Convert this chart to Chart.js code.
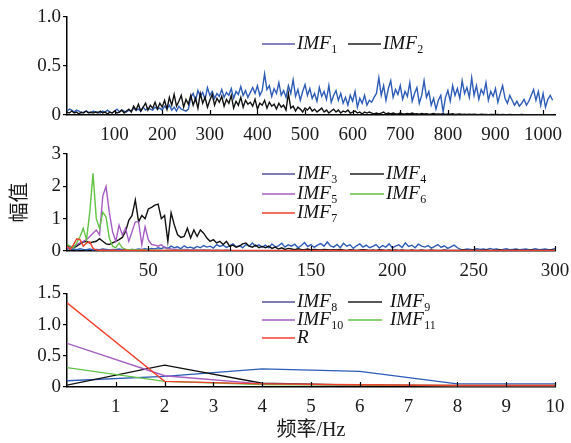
<!DOCTYPE html>
<html>
<head>
<meta charset="utf-8">
<script src="https://cdn.jsdelivr.net/npm/chart.js@4.4.0/dist/chart.umd.min.js"></script>
<style>
    html, body { margin: 0; padding: 0; background: #fff; }
    #wrap { position: relative; width: 571px; height: 443px; }
    canvas { position: absolute; left: 0; }
</style>
</head>
<body>
<div id="wrap">
    <canvas id="painel1" width="571" height="140" style="top:0"></canvas>
    <canvas id="painel2" width="571" height="140" style="top:140px"></canvas>
    <canvas id="painel3" width="571" height="163" style="top:280px"></canvas>
</div>
<script>
"use strict";

/********************************************************************
 * Data
 ********************************************************************/

// panel 1: 0..1020 Hz, one value every 5 Hz
const step1 = 5;
const labels1 = ["IMF1", "IMF2"];
const imf1 = [
    0.04,0.06,0.05,0.03,0.05,0.04,0.02,0.03,0.04,0.03,0.02,0.04,0.03,
    0.03,0.02,0.04,0.03,0.05,0.03,0.02,0.04,0.06,0.03,0.05,0.04,0.03,
    0.05,0.04,0.07,0.05,0.06,0.04,0.08,0.05,0.07,0.06,0.05,0.08,0.06,
    0.07,0.05,0.09,0.06,0.1,0.05,0.08,0.04,0.09,0.06,0.05,0.04,0.06,
    0.18,0.22,0.15,0.25,0.19,0.23,0.16,0.28,0.2,0.24,0.17,0.22,0.19,
    0.26,0.18,0.23,0.2,0.27,0.17,0.24,0.21,0.29,0.2,0.25,0.18,0.23,
    0.28,0.22,0.3,0.2,0.25,0.42,0.26,0.3,0.19,0.27,0.22,0.33,0.2,
    0.25,0.18,0.3,0.22,0.36,0.19,0.26,0.15,0.24,0.31,0.2,0.27,0.17,
    0.22,0.14,0.28,0.19,0.24,0.16,0.3,0.13,0.2,0.25,0.15,0.22,0.12,
    0.18,0.1,0.2,0.14,0.24,0.08,0.17,0.12,0.2,0.1,0.15,0.13,0.18,
    0.22,0.38,0.2,0.3,0.15,0.27,0.35,0.18,0.26,0.21,0.3,0.16,0.24,
    0.19,0.33,0.14,0.22,0.28,0.12,0.2,0.35,0.18,0.24,0.1,0.17,0.06,
    0.15,0.2,0.03,0.18,0.25,0.14,0.3,0.2,0.27,0.17,0.35,0.22,0.28,
    0.18,0.38,0.2,0.3,0.16,0.26,0.21,0.33,0.15,0.24,0.19,0.27,0.13,
    0.22,0.3,0.17,0.12,0.2,0.15,0.1,0.14,0.09,0.12,0.16,0.1,0.14,
    0.2,0.26,0.15,0.24,0.1,0.22,0.08,0.16,0.2,0.15
];
const imf2 = [
    0.03,0.02,0.04,0.02,0.03,0.01,0.03,0.02,0.04,0.02,0.03,0.02,0.03,
    0.02,0.04,0.02,0.03,0.01,0.03,0.02,0.04,0.02,0.03,0.05,0.02,0.04,
    0.06,0.03,0.09,0.05,0.11,0.04,0.08,0.12,0.05,0.1,0.07,0.13,0.06,
    0.12,0.08,0.15,0.06,0.18,0.1,0.21,0.09,0.14,0.2,0.08,0.16,0.11,
    0.2,0.1,0.17,0.07,0.22,0.12,0.18,0.08,0.15,0.21,0.1,0.17,0.13,
    0.19,0.09,0.16,0.12,0.2,0.07,0.14,0.1,0.18,0.08,0.15,0.11,0.13,
    0.09,0.16,0.06,0.12,0.1,0.15,0.07,0.13,0.09,0.11,0.06,0.12,0.08,
    0.1,0.05,0.22,0.07,0.09,0.04,0.08,0.06,0.03,0.07,0.05,0.08,0.04,
    0.06,0.03,0.05,0.07,0.03,0.05,0.02,0.04,0.06,0.03,0.05,0.02,0.04,
    0.03,0.05,0.02,0.03,0.04,0.02,0.03,0.01,0.03,0.02,0.03,0.02,0.01,
    0.02,0.01,0.02,0.03,0.01,0.02,0.01,0.02,0.01,0.01,0.02,0.01,0.01,
    0.015,0.01,0.02,0.01,0.012,0.008,0.015,0.01,0.012,0.008,0.01,0.015,0.008,
    0.01,0.008,0.012,0.006,0.01,0.008,0.012,0.006,0.008,0.01,0.006,0.008,0.006,
    0.008,0.005,0.007,0.006,0.004,0.007,0.005,0.006,0.004,0.005,0.006,0.004,0.005,
    0.004,0.005,0.003,0.004,0.005,0.003,0.004,0.003,0.004,0.005,0.003,0.004,0.003,
    0.004,0.003,0.004,0.003,0.003,0.004,0.003,0.003,0.004,0.003
];
const xTicks1 = [100, 200, 300, 400, 500, 600, 700, 800, 900, 1000];
const yTicks1 = [0, 0.5, 1.0];

// panel 2: 0..300 Hz, one value every 2 Hz
const step2 = 2;
const labels2 = ["IMF3", "IMF4", "IMF5", "IMF6", "IMF7"];
const imf3 = [
    0.08,0.05,0.06,0.04,0.07,0.05,0.04,0.06,0.03,0.05,0.04,0.06,0.05,0.03,0.05,0.04,0.06,0.04,0.05,0.03,0.05,
    0.04,0.06,0.05,0.07,0.05,0.08,0.06,0.1,0.07,0.12,0.08,0.15,0.1,0.13,0.07,0.16,0.1,0.12,0.08,0.14,
    0.1,0.17,0.12,0.15,0.09,0.2,0.14,0.18,0.11,0.16,0.22,0.13,0.17,0.1,0.2,0.15,0.25,0.14,0.19,0.12,
    0.18,0.1,0.22,0.13,0.16,0.24,0.12,0.19,0.15,0.21,0.1,0.17,0.26,0.14,0.2,0.11,0.18,0.23,0.15,0.28,
    0.16,0.12,0.2,0.1,0.24,0.15,0.19,0.08,0.16,0.22,0.12,0.18,0.1,0.14,0.2,0.09,0.17,0.12,0.22,0.1,
    0.15,0.19,0.11,0.25,0.14,0.18,0.1,0.21,0.15,0.12,0.17,0.09,0.14,0.2,0.11,0.16,0.08,0.13,0.18,0.1,
    0.05,0.04,0.06,0.05,0.04,0.07,0.05,0.06,0.04,0.08,0.05,0.06,0.04,0.05,0.07,0.04,0.05,0.06,0.04,0.05,
    0.06,0.04,0.05,0.07,0.04,0.05,0.06,0.04,0.05,0.07
];
const imf4 = [
    0.18,0.12,0.1,0.15,0.22,0.28,0.3,0.25,0.28,0.3,0.38,0.3,0.22,0.2,0.25,0.3,0.35,0.42,0.6,0.95,1.1,
    1.58,0.9,1.1,1.0,1.3,1.35,1.42,1.45,1.0,1.1,0.3,1.18,0.8,0.5,0.42,0.45,0.7,0.4,0.65,0.45,
    0.65,0.55,0.4,0.3,0.35,0.25,0.3,0.2,0.3,0.15,0.18,0.12,0.15,0.22,0.25,0.15,0.12,0.18,0.1,0.14,
    0.1,0.15,0.08,0.12,0.06,0.1,0.05,0.08,0.06,0.04,0.07,0.05,0.04,0.06,0.03,0.05,0.04,0.03,0.05,0.04,
    0.03,0.04,0.03,0.05,0.03,0.02,0.04,0.03,0.02,0.03,0.04,0.03,0.02,0.03,0.02,0.04,0.03,0.02,0.03,0.02,
    0.03,0.02,0.03,0.02,0.02,0.03,0.02,0.02,0.03,0.02,0.02,0.03,0.02,0.02,0.02,0.03,0.02,0.02,0.02,0.02,
    0.02,0.03,0.02,0.02,0.03,0.02,0.02,0.02,0.03,0.02,0.02,0.02,0.03,0.02,0.02,0.02,0.02,0.03,0.02,0.02,
    0.02,0.02,0.03,0.02,0.02,0.02,0.02,0.02,0.03,0.02
];
const imf5 = [
    0.1,0.12,0.15,0.2,0.25,0.3,0.35,0.45,0.55,0.65,
    0.5,1.7,2.0,1.2,0.6,0.3,0.8,0.5,0.7,0.3,
    0.6,0.9,0.9,0.2,0.75,0.35,0.2,0.18,0.15,0.2,
    0.1,0.08,0.06,0.05,0.05,0.04,0.05,0.04,0.03,0.04,
    0.03,0.03,0.04,0.03,0.03,0.02,0.03,0.02,0.02,0.03,0.02
];
const imf6 = [
    0.2,0.15,0.1,0.25,0.45,0.7,0.35,1.2,2.4,1.0,
    0.7,1.2,1.05,0.4,0.15,0.1,0.25,0.1,0.05,0.04,
    0.05,0.03,0.04,0.03,0.03,0.02,0.03,0.02,0.03,0.02,
    0.02,0.03,0.02,0.02,0.02,0.03,0.02,0.02,0.02,0.02,
    0.02,0.02,0.02,0.02,0.02,0.02,0.02,0.02,0.02,0.02,0.02
];
const imf7 = [
    0.15,0.05,0.2,0.38,0.35,0.15,0.25,0.28,0.08,0.03,
    0.02,0.03,0.02,0.02,0.03,0.02,0.02,0.02,0.03,0.02,0.02,0.02,0.02,0.03,0.02,0.02,0.02,0.02,0.02,0.02,0.02,
    0.02,0.02,0.015,0.02,0.02,0.015,0.02,0.02,0.02,0.015,0.02,0.02,0.015,0.02,0.02,0.02,0.015,0.02,0.02,0.015,
    0.02,0.015,0.02,0.02,0.015,0.02,0.02,0.015,0.02,0.02,0.015,0.02,0.015,0.02,0.02,0.015,0.02,0.02,0.015,0.02,
    0.015,0.02,0.015,0.015,0.02,0.015,0.015,0.02,0.015,0.015,0.02,0.015,0.015,0.015,0.02,0.015,0.015,0.02,0.015,0.015,
    0.015,0.015,0.02,0.015,0.015,0.015,0.015,0.02,0.015,0.015,0.015,0.015,0.015,0.02,0.015,0.015,0.015,0.015,0.015,0.015,
    0.015,0.015,0.015,0.015,0.015,0.015,0.015,0.015,0.015,0.015,0.015,0.015,0.015,0.015,0.015,0.015,0.015,0.015,0.015,0.015,
    0.015,0.015,0.015,0.015,0.015,0.015,0.015,0.015,0.015,0.015,0.015,0.015,0.015,0.015,0.015,0.015,0.015,0.015,0.015,0.015
];
const xTicks2 = [50, 100, 150, 200, 250, 300];
const yTicks2 = [0, 1, 2, 3];

// panel 3: 0..10 Hz
const freq3 = [0, 2, 4, 6, 8, 10];
const labels3 = ["IMF8", "IMF9", "IMF10", "IMF11", "R"];
const imf8  = [0.1, 0.17, 0.29, 0.25, 0.05, 0.05];
const imf9  = [0.03, 0.35, 0.06, 0.03, 0.015, 0.015];
const imf10 = [0.7, 0.18, 0.05, 0.03, 0.025, 0.025];
const imf11 = [0.31, 0.09, 0.04, 0.03, 0.025, 0.025];
const resid = [1.35, 0.09, 0.05, 0.035, 0.025, 0.025];
const xTicks3 = [1, 2, 3, 4, 5, 6, 7, 8, 9, 10];
const yTicks3 = [0, 0.5, 1.0, 1.5];

/********************************************************************
 * Styles
 ********************************************************************/
const AZUL = "#2c5cb6";
const PRETO = "#111111";
const ROXO = "#a55cc2";
const VERDE = "#62c244";
const VERMELHO = "#f23f2b";

const FONTE = "'Liberation Serif', 'Noto Sans CJK SC', serif";

/********************************************************************
 * Plugins
 ********************************************************************/
const ticksInternos = {
    id: "ticksInternos",
    afterDatasetsDraw(chart) {
        const xs = chart.scales.x;
        const area = chart.chartArea;
        const ctx = chart.ctx;
        ctx.save();
        ctx.strokeStyle = "#000";
        ctx.lineWidth = 1.2;
        xs.ticks.forEach(t => {
            const px = Math.round(xs.getPixelForValue(t.value)) + 0.5;
            ctx.beginPath();
            ctx.moveTo(px, area.bottom);
            ctx.lineTo(px, area.bottom - 5);
            ctx.stroke();
        });
        ctx.restore();
    }
};

const legendaIMF = {
    id: "legendaIMF",
    afterDraw(chart, args, opts) {
        const ctx = chart.ctx;
        (opts.items || []).forEach(it => {
            const m = it.label.match(/^(\D+)(\d*)$/);
            ctx.save();
            ctx.strokeStyle = it.color;
            ctx.lineWidth = 1.5;
            ctx.beginPath();
            ctx.moveTo(it.x0, it.y);
            ctx.lineTo(it.x1, it.y);
            ctx.stroke();
            ctx.fillStyle = "#111";
            ctx.textBaseline = "middle";
            ctx.font = "italic 19px 'Liberation Serif'";
            ctx.fillText(m[1], it.tx, it.y);
            if (m[2]) {
                const w = ctx.measureText(m[1]).width;
                ctx.font = "12px 'Liberation Serif'";
                ctx.fillText(m[2], it.tx + w + 0.5, it.y + 6);
            }
            ctx.restore();
        });
    }
};

/********************************************************************
 * Builders
 ********************************************************************/
function pontosPasso(valores, passo) {
    return valores.map((v, i) => ({ x: i * passo, y: v }));
}

function pontosFreq(freq, valores) {
    return valores.map((v, i) => ({ x: freq[i], y: v }));
}

function serie(label, dados, cor, ordem) {
    return {
        label: label,
        data: dados,
        borderColor: cor,
        borderWidth: 1.4,
        pointRadius: 0,
        tension: 0,
        fill: false,
        order: ordem
    };
}

function opcoes(cfg) {
    return {
        responsive: false,
        animation: false,
        events: [],
        layout: { padding: { top: cfg.top, right: 16, left: 0, bottom: 0 } },
        plugins: {
            legend: { display: false },
            tooltip: { enabled: false },
            legendaIMF: { items: cfg.legenda }
        },
        scales: {
            x: {
                type: "linear",
                min: cfg.xMin,
                max: cfg.xMax,
                afterFit(scale) { scale.height = cfg.xAltura; },
                afterBuildTicks(scale) { scale.ticks = cfg.xTicks.map(v => ({ value: v })); },
                grid: { display: false },
                border: { display: true, color: "#000", width: 1.5 },
                ticks: {
                    color: "#1a1a1a",
                    padding: 1,
                    maxRotation: 0,
                    autoSkip: false,
                    font: { family: FONTE, size: 19 },
                    callback: v => String(v)
                },
                title: cfg.xTitulo ? {
                    display: true,
                    text: cfg.xTitulo,
                    color: "#1a1a1a",
                    padding: { top: 0, bottom: 0 },
                    font: { family: FONTE, size: 20 }
                } : { display: false }
            },
            y: {
                min: cfg.yMin,
                max: cfg.yMax,
                afterFit(scale) { scale.width = 67; },
                afterBuildTicks(scale) { scale.ticks = cfg.yTicks.map(v => ({ value: v })); },
                grid: { drawOnChartArea: false, drawTicks: true, tickLength: 4, color: "#000", lineWidth: 1.2 },
                border: { display: true, color: "#000", width: 1.5 },
                ticks: {
                    color: "#1a1a1a",
                    padding: 2,
                    autoSkip: false,
                    font: { family: FONTE, size: 19 },
                    callback: v => (v === 0 ? "0" : (cfg.yDecimais ? v.toFixed(1) : String(v)))
                },
                title: cfg.yTitulo ? {
                    display: true,
                    text: cfg.yTitulo,
                    color: "#1a1a1a",
                    padding: { top: 9, bottom: 0 },
                    font: { family: FONTE, size: 20 }
                } : { display: false }
            }
        }
    };
}

/********************************************************************
 * Panel 1
 ********************************************************************/
new Chart(document.getElementById("painel1"), {
    type: "line",
    data: {
        datasets: [
            serie(labels1[0], pontosPasso(imf1, step1), AZUL, 1),
            serie(labels1[1], pontosPasso(imf2, step1), PRETO, 0)
        ]
    },
    options: opcoes({
        top: 17, xAltura: 25, xMin: 0, xMax: 1025, xTicks: xTicks1,
        yMin: 0, yMax: 1, yTicks: yTicks1, yDecimais: true,
        legenda: [
            { label: labels1[0], color: "#5a58a8", x0: 262, x1: 295, tx: 297, y: 44 },
            { label: labels1[1], color: "#222", x0: 348, x1: 381, tx: 383, y: 44 }
        ]
    }),
    plugins: [ticksInternos, legendaIMF]
});

/********************************************************************
 * Panel 2
 ********************************************************************/
new Chart(document.getElementById("painel2"), {
    type: "line",
    data: {
        datasets: [
            serie(labels2[0], pontosPasso(imf3, step2), AZUL, 5),
            serie(labels2[1], pontosPasso(imf4, step2), PRETO, 4),
            serie(labels2[2], pontosPasso(imf5, step2), ROXO, 3),
            serie(labels2[3], pontosPasso(imf6, step2), VERDE, 2),
            serie(labels2[4], pontosPasso(imf7, step2), VERMELHO, 1)
        ]
    },
    options: opcoes({
        top: 14, xAltura: 29, xMin: 0, xMax: 300, xTicks: xTicks2,
        yMin: 0, yMax: 3, yTicks: yTicks2, yDecimais: false,
        yTitulo: "幅值",
        legenda: [
            { label: labels2[0], color: "#53529e", x0: 262, x1: 295, tx: 297, y: 34 },
            { label: labels2[1], color: "#222", x0: 350, x1: 384, tx: 386, y: 34 },
            { label: labels2[2], color: ROXO, x0: 262, x1: 295, tx: 297, y: 54 },
            { label: labels2[3], color: VERDE, x0: 350, x1: 384, tx: 386, y: 54 },
            { label: labels2[4], color: VERMELHO, x0: 262, x1: 295, tx: 297, y: 73 }
        ]
    }),
    plugins: [ticksInternos, legendaIMF]
});

/********************************************************************
 * Panel 3
 ********************************************************************/
new Chart(document.getElementById("painel3"), {
    type: "line",
    data: {
        datasets: [
            serie(labels3[0], pontosFreq(freq3, imf8), AZUL, 5),
            serie(labels3[1], pontosFreq(freq3, imf9), PRETO, 4),
            serie(labels3[2], pontosFreq(freq3, imf10), ROXO, 3),
            serie(labels3[3], pontosFreq(freq3, imf11), VERDE, 2),
            serie(labels3[4], pontosFreq(freq3, resid), VERMELHO, 1)
        ]
    },
    options: opcoes({
        top: 10, xAltura: 56, xMin: 0, xMax: 10, xTicks: xTicks3,
        yMin: 0, yMax: 1.5, yTicks: yTicks3, yDecimais: true,
        xTitulo: "频率/Hz",
        legenda: [
            { label: labels3[0], color: "#53529e", x0: 262, x1: 295, tx: 297, y: 22 },
            { label: labels3[1], color: "#222", x0: 348, x1: 382, tx: 390, y: 22 },
            { label: labels3[2], color: ROXO, x0: 262, x1: 295, tx: 297, y: 40 },
            { label: labels3[3], color: VERDE, x0: 348, x1: 382, tx: 390, y: 40 },
            { label: labels3[4], color: VERMELHO, x0: 262, x1: 295, tx: 297, y: 58 }
        ]
    }),
    plugins: [ticksInternos, legendaIMF]
});
</script>
</body>
</html>
